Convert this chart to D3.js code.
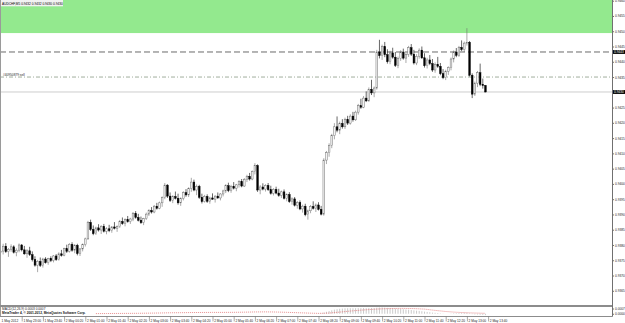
<!DOCTYPE html>
<html><head><meta charset="utf-8">
<script src="https://cdn.jsdelivr.net/npm/d3@7"></script>
<style>html,body{margin:0;padding:0;background:#fff;overflow:hidden}svg{display:block}</style>
</head><body>
<svg id="c" width="625" height="323"></svg>
<script>
// ---------------- DATA ----------------
const chartTitle = "AUDCHF,M5 0.9432 0.9432 0.9430 0.9430";
const opens = [.93775,.93780,.93796,.93778,.93786,.93794,.93776,.93783,.93800,.93784,.93771,.93781,.93768,.93752,.93734,.93746,.93733,.93754,.93742,.93756,
.93749,.93764,.93752,.93771,.93766,.93788,.93779,.93802,.93783,.93799,.93772,.93787,.93801,.93820,.93874,.93851,.93837,.93856,.93849,.93861,
.93845,.93853,.93847,.93859,.93855,.93860,.93877,.93870,.93883,.93876,.93885,.93903,.93890,.93881,.93873,.93886,.93901,.93913,.93908,.93927,
.93920,.93938,.93955,.93996,.93960,.93946,.93959,.93953,.93938,.93952,.93971,.93964,.93985,.94006,.93980,.93992,.93956,.93942,.93959,.93943,
.93954,.93950,.93960,.93954,.93967,.93977,.93994,.93978,.93992,.93986,.93997,.94008,.93993,.94014,.94025,.94016,.94040,.94060,.93980,.93990,
.93983,.93995,.93981,.93969,.93982,.93970,.93962,.93974,.93953,.93965,.93942,.93951,.93930,.93939,.93918,.93927,.93899,.93912,.93926,.93920,
.93931,.93917,.93901,.94078,.94102,.94126,.94158,.94187,.94176,.94198,.94187,.94211,.94199,.94222,.94210,.94235,.94256,.94251,.94281,.94272,
.94310,.94298,.94314,.94432,.94420,.94450,.94423,.94400,.94429,.94415,.94388,.94411,.94432,.94412,.94424,.94446,.94425,.94396,.94418,.94438,
.94413,.94387,.94406,.94394,.94373,.94391,.94385,.94361,.94348,.94369,.94381,.94409,.94432,.94421,.94447,.94440,.94461,.94464,.94356,.94294,
.94330,.94364,.94326,.94322];
const highs = [.93798,.93804,.93806,.93790,.93802,.93799,.93789,.93805,.93803,.93797,.93786,.93794,.93779,.93763,.93751,.93759,.93758,.93760,.93758,.93763,
.93767,.93770,.93776,.93784,.93791,.93801,.93806,.93809,.93803,.93804,.93790,.93805,.93824,.93879,.93883,.93864,.93860,.93868,.93865,.93869,
.93858,.93866,.93862,.93875,.93864,.93882,.93890,.93887,.93895,.93889,.93908,.93911,.93902,.93893,.93889,.93906,.93917,.93924,.93931,.93938,
.93942,.93959,.94003,.93999,.93972,.93963,.93975,.93968,.93956,.93976,.93983,.93989,.94020,.94014,.93998,.93997,.93968,.93964,.93966,.93958,
.93969,.93963,.93972,.93970,.93981,.93999,.94004,.93997,.94006,.94000,.94012,.94016,.94019,.94030,.94036,.94044,.94068,.94064,.93996,.94002,
.93999,.94003,.93994,.93986,.93991,.93984,.93978,.93982,.93969,.93973,.93956,.93957,.93944,.93946,.93932,.93935,.93916,.93931,.93943,.93936,
.93940,.93928,.94084,.94108,.94133,.94164,.94199,.94221,.94204,.94212,.94217,.94223,.94228,.94236,.94240,.94262,.94279,.94288,.94303,.94316,
.94341,.94319,.94439,.94472,.94456,.94465,.94441,.94436,.94446,.94432,.94417,.94438,.94443,.94430,.94452,.94458,.94439,.94425,.94444,.94450,
.94428,.94413,.94422,.94409,.94398,.94416,.94396,.94376,.94374,.94385,.94414,.94437,.94445,.94452,.94470,.94466,.94510,.94468,.94362,.94335,
.94370,.94394,.94345,.94324];
const lows = [.93752,.93769,.93774,.93761,.93778,.93772,.93763,.93776,.93779,.93768,.93758,.93764,.93746,.93729,.93711,.93728,.93726,.93739,.93735,.93744,
.93743,.93748,.93749,.93762,.93763,.93774,.93775,.93778,.93773,.93766,.93764,.93779,.93795,.93817,.93846,.93832,.93833,.93844,.93836,.93841,
.93835,.93842,.93840,.93851,.93843,.93856,.93866,.93861,.93873,.93869,.93878,.93886,.93877,.93869,.93865,.93882,.93895,.93903,.93904,.93916,
.93917,.93925,.93950,.93954,.93941,.93937,.93949,.93932,.93928,.93946,.93958,.93957,.93974,.93976,.93963,.93951,.93936,.93939,.93938,.93935,
.93948,.93939,.93951,.93946,.93959,.93970,.93973,.93971,.93982,.93976,.93988,.93989,.93990,.94006,.94011,.94012,.94031,.93974,.93966,.93979,
.93975,.93977,.93965,.93962,.93966,.93958,.93954,.93949,.93943,.93938,.93932,.93926,.93919,.93914,.93906,.93894,.93883,.93904,.93916,.93908,
.93913,.93897,.93896,.94065,.94089,.94117,.94146,.94169,.94163,.94181,.94180,.94193,.94194,.94204,.94206,.94227,.94246,.94248,.94268,.94269,
.94291,.94284,.94309,.94411,.94406,.94415,.94394,.94392,.94410,.94383,.94379,.94403,.94407,.94396,.94416,.94419,.94391,.94389,.94410,.94409,
.94381,.94378,.94389,.94367,.94364,.94380,.94356,.94343,.94340,.94357,.94372,.94398,.94415,.94416,.94435,.94432,.94453,.94352,.94281,.94288,
.94317,.94320,.94312,.94300];
const closes = [.93780,.93796,.93778,.93786,.93794,.93776,.93783,.93800,.93784,.93771,.93781,.93768,.93752,.93734,.93746,.93733,.93754,.93742,.93756,.93749,
.93764,.93752,.93771,.93766,.93788,.93779,.93802,.93783,.93799,.93772,.93787,.93801,.93820,.93874,.93851,.93837,.93856,.93849,.93861,.93845,
.93853,.93847,.93859,.93855,.93860,.93877,.93870,.93883,.93876,.93885,.93903,.93890,.93881,.93873,.93886,.93901,.93913,.93908,.93927,.93920,
.93938,.93955,.93996,.93960,.93946,.93959,.93953,.93938,.93952,.93971,.93964,.93985,.94006,.93980,.93992,.93956,.93942,.93959,.93943,.93954,
.93950,.93960,.93954,.93967,.93977,.93994,.93978,.93992,.93986,.93997,.94008,.93993,.94014,.94025,.94016,.94040,.94060,.93980,.93990,.93983,
.93995,.93981,.93969,.93982,.93970,.93962,.93974,.93953,.93965,.93942,.93951,.93930,.93939,.93918,.93927,.93899,.93912,.93926,.93920,.93931,
.93917,.93901,.94078,.94102,.94126,.94158,.94187,.94176,.94198,.94187,.94211,.94199,.94222,.94210,.94235,.94256,.94251,.94281,.94272,.94310,
.94298,.94314,.94432,.94420,.94450,.94423,.94400,.94429,.94415,.94388,.94411,.94432,.94412,.94424,.94446,.94425,.94396,.94418,.94438,.94413,
.94387,.94406,.94394,.94373,.94391,.94385,.94361,.94348,.94369,.94381,.94409,.94432,.94421,.94447,.94440,.94461,.94464,.94356,.94294,.94330,
.94364,.94326,.94322,.94301];

const priceTicks = [0.9460,0.9455,0.9450,0.9445,0.9440,0.9435,0.9430,0.9425,0.9420,0.9415,0.9410,0.9405,0.9400,0.9395,0.9390,0.9385,0.9380,0.9375,0.9370,0.9365];
const firstDateLabel = "1 May 2012";
const timeLabels = ["1 May 23:00","1 May 23:40","2 May 00:20","2 May 01:00","2 May 01:40","2 May 02:20","2 May 03:00","2 May 03:40","2 May 04:20","2 May 05:00",
"2 May 05:40","2 May 06:20","2 May 07:00","2 May 07:40","2 May 08:20","2 May 09:00","2 May 09:40","2 May 10:20","2 May 11:00","2 May 11:40",
"2 May 12:20","2 May 13:00","2 May 13:40"];
const timeLabelBars = [8,16,24,32,40,48,56,64,72,80,88,96,104,112,120,128,136,144,152,160,168,176,184];

const zoneLow = 0.94494, zoneHigh = 0.9475;      // green rectangle
const dashedLevel = 0.94432;                     // long-dash line
const orderLevel = 0.94350;                      // dash-dot order line
const orderLabel = "#40950879 sell";

const macdTitle = "MACD(12,26,9) 0.0003 0.0007";
const copyrightText = "MetaTrader 4, \u00A9 2001-2012, MetaQuotes Software Corp.";
const macdTicks = [0.0007, 0.0000];
const macdHistBars = d3.range(120,184);
const macdHist = [0.00006,0.00004,0.00015,0.00026,0.00036,0.00046,0.00055,0.00061,0.00066,0.00069,0.00072,0.00073,0.00074,0.00073,0.00074,0.00075,
0.00075,0.00076,0.00075,0.00077,0.00076,0.00076,0.00080,0.00082,0.00083,0.00081,0.00078,0.00076,0.00073,0.00069,0.00066,0.00063,0.00059,0.00056,
0.00054,0.00050,0.00045,0.00041,0.00038,0.00033,0.00028,0.00024,0.00020,0.00015,0.00012,0.00009,0.00005,0.00002,0.00000,0.00000,0.00003,0.00006,
0.00008,0.00010,0.00011,0.00013,0.00014,0.00005,-0.00005,-0.00009,-0.00010,-0.00013,-0.00015,-0.00018];
const signalBars = [36,40,44,48,52,56,60,64,68,72,76,80,84,88,92,96,100,104,108,112,116,120,124,128,132,136,140,144,148,152,156,160,164,168,172,176,180,183];
const signalVals = [0.00002,0.00003,0.00004,0.00005,0.00006,0.00008,0.00010,0.00013,0.00014,0.00016,0.00017,0.00018,0.00018,0.00019,0.00021,0.00024,
0.00025,0.00023,0.00019,0.00014,0.00009,0.00005,0.00009,0.00022,0.00036,0.00048,0.00058,0.00066,0.00070,0.00071,0.00069,0.00062,0.00045,0.00030,
0.00020,0.00013,0.00009,0.00006];

// ---------------- LAYOUT ----------------
const plotR = 612.5, mainBottom = 305, subTop = 307, subBottom = 316.5;
const FONT = "'Liberation Sans', Arial, sans-serif", FS = 3.2;
const svg = d3.select("#c");
const x = d3.scaleLinear().domain([0,231]).range([0.5,612.65]);
const y = d3.scaleLinear().domain([0.9360,0.9460]).range([306.05,0.7]);
const yM = d3.scaleLinear().domain([-0.0003,0.0009]).range([316,307]);

svg.append("rect").attr("width",625).attr("height",323).attr("fill","#fff");
const defs = svg.append("defs");
defs.append("clipPath").attr("id","mainClip").append("rect").attr("x",0).attr("y",0).attr("width",plotR).attr("height",mainBottom);
defs.append("clipPath").attr("id","subClip").append("rect").attr("x",0).attr("y",subTop).attr("width",plotR).attr("height",subBottom-subTop);

const main = svg.append("g").attr("clip-path","url(#mainClip)");
// green zone
main.append("rect").attr("x",0).attr("width",plotR)
  .attr("y",y(zoneHigh)).attr("height",y(zoneLow)-y(zoneHigh)).attr("fill","#93e98e");
// title
main.append("rect").attr("x",0).attr("y",0).attr("width",63).attr("height",6.3).attr("fill","#f2f2f2");
main.append("text").attr("x",2).attr("y",4.8).attr("font-family",FONT).attr("font-size",FS).attr("fill","#000").text(chartTitle);

// levels
main.append("line").attr("x1",0).attr("x2",plotR).attr("y1",y(dashedLevel)).attr("y2",y(dashedLevel))
  .attr("stroke","#5a5a5a").attr("stroke-width",0.9).attr("stroke-dasharray","6,3");
main.append("line").attr("x1",0).attr("x2",plotR).attr("y1",y(orderLevel)).attr("y2",y(orderLevel))
  .attr("stroke","#8a9a84").attr("stroke-width",0.8).attr("stroke-dasharray","4,2,1,2");
main.append("text").attr("x",3).attr("y",y(orderLevel)-1.2).attr("font-family",FONT).attr("font-size",FS).attr("fill","#222").text(orderLabel);
const bid = closes[closes.length-1];
main.append("line").attr("x1",0).attr("x2",plotR).attr("y1",y(bid)).attr("y2",y(bid))
  .attr("stroke","#c8c8c8").attr("stroke-width",0.9);

// candles
const idx = d3.range(closes.length);
const bw = 1.7;
const cg = main.append("g");
cg.selectAll("line.w").data(idx).join("line").attr("class","w")
  .attr("x1",i=>x(i)).attr("x2",i=>x(i)).attr("y1",i=>y(highs[i])).attr("y2",i=>y(lows[i]))
  .attr("stroke",i=>closes[i]>=opens[i]?"#707070":"#000").attr("stroke-width",0.6);
cg.selectAll("rect.b").data(idx).join("rect").attr("class","b")
  .attr("x",i=>x(i)-bw/2).attr("width",bw)
  .attr("y",i=>y(Math.max(opens[i],closes[i])))
  .attr("height",i=>Math.max(0.6,Math.abs(y(opens[i])-y(closes[i]))))
  .attr("fill",i=>closes[i]>=opens[i]?"#f4f4f4":"#000")
  .attr("stroke",i=>closes[i]>=opens[i]?"#6a6a6a":"#000").attr("stroke-width",0.45);

// frame
svg.append("line").attr("x1",0.5).attr("x2",0.5).attr("y1",0).attr("y2",subBottom).attr("stroke","#9a9a9a").attr("stroke-width",1);
svg.append("rect").attr("x",0).attr("y",mainBottom).attr("width",plotR).attr("height",subTop-mainBottom).attr("fill","#8c8c8c");
svg.append("line").attr("x1",0).attr("x2",plotR).attr("y1",subBottom).attr("y2",subBottom).attr("stroke","#8c8c8c").attr("stroke-width",1);

// right price axis
const ya = svg.append("g").attr("transform",`translate(${plotR},0)`)
  .call(d3.axisRight(y).tickValues(priceTicks).tickSize(1.5).tickPadding(1).tickFormat(d3.format(".4f")));
ya.select(".domain").attr("d",`M0,0V${subBottom}`).attr("stroke","#707070");
ya.selectAll(".tick line").attr("stroke","#707070");
ya.selectAll("text").attr("font-family",FONT).attr("font-size",FS).attr("fill","#222");
// price marker boxes
[[dashedLevel,"0.9443"],[bid,d3.format(".4f")(bid)]].forEach(([p,t])=>{
  svg.append("rect").attr("x",plotR+0.5).attr("y",y(p)-1.9).attr("width",12).attr("height",3.8).attr("fill","#000");
  svg.append("text").attr("x",plotR+1.6).attr("y",y(p)+1.1).attr("font-family",FONT).attr("font-size",FS).attr("fill","#fff").text(t);
});

// indicator panel
const sub = svg.append("g").attr("clip-path","url(#subClip)");
sub.selectAll("line.h").data(macdHistBars).join("line").attr("class","h")
  .attr("x1",b=>x(b)).attr("x2",b=>x(b)).attr("y1",yM(0)).attr("y2",(b,k)=>yM(macdHist[k]))
  .attr("stroke","#c4c4c4").attr("stroke-width",0.9);
sub.append("path").datum(signalBars.map((b,k)=>[b,signalVals[k]]))
  .attr("d",d3.line().x(d=>x(d[0])).y(d=>yM(d[1])))
  .attr("fill","none").attr("stroke","#e07070").attr("stroke-width",0.8).attr("stroke-dasharray","1,1");
sub.append("text").attr("x",2).attr("y",310.2).attr("font-family",FONT).attr("font-size",FS).attr("fill","#222").text(macdTitle);
sub.append("text").attr("x",2).attr("y",313.9).attr("font-family",FONT).attr("font-size",FS).attr("fill","#111").attr("font-weight","bold").text(copyrightText);
const ma = svg.append("g").attr("transform",`translate(${plotR},0)`)
  .call(d3.axisRight(yM).tickValues(macdTicks).tickSize(1.5).tickPadding(1).tickFormat(d3.format(".4f")));
ma.select(".domain").remove();
ma.selectAll(".tick line").attr("stroke","#707070");
ma.selectAll("text").attr("font-family",FONT).attr("font-size",FS).attr("fill","#222");

// time axis
const ta = svg.append("g").attr("transform",`translate(0,${subBottom})`)
  .call(d3.axisBottom(x).tickValues(timeLabelBars).tickSize(5).tickPadding(0).tickFormat((d,k)=>timeLabels[k]));
ta.select(".domain").remove();
ta.selectAll(".tick line").attr("stroke","#707070").attr("stroke-width",0.6);
ta.selectAll("text").attr("font-family",FONT).attr("font-size",FS).attr("fill","#222")
  .attr("text-anchor","start").attr("dx",1.2).attr("dy",0).attr("y",5.4);
svg.append("text").attr("x",1.5).attr("y",subBottom+5.4).attr("font-family",FONT).attr("font-size",FS).attr("fill","#222").text(firstDateLabel);
</script>
</body></html>
